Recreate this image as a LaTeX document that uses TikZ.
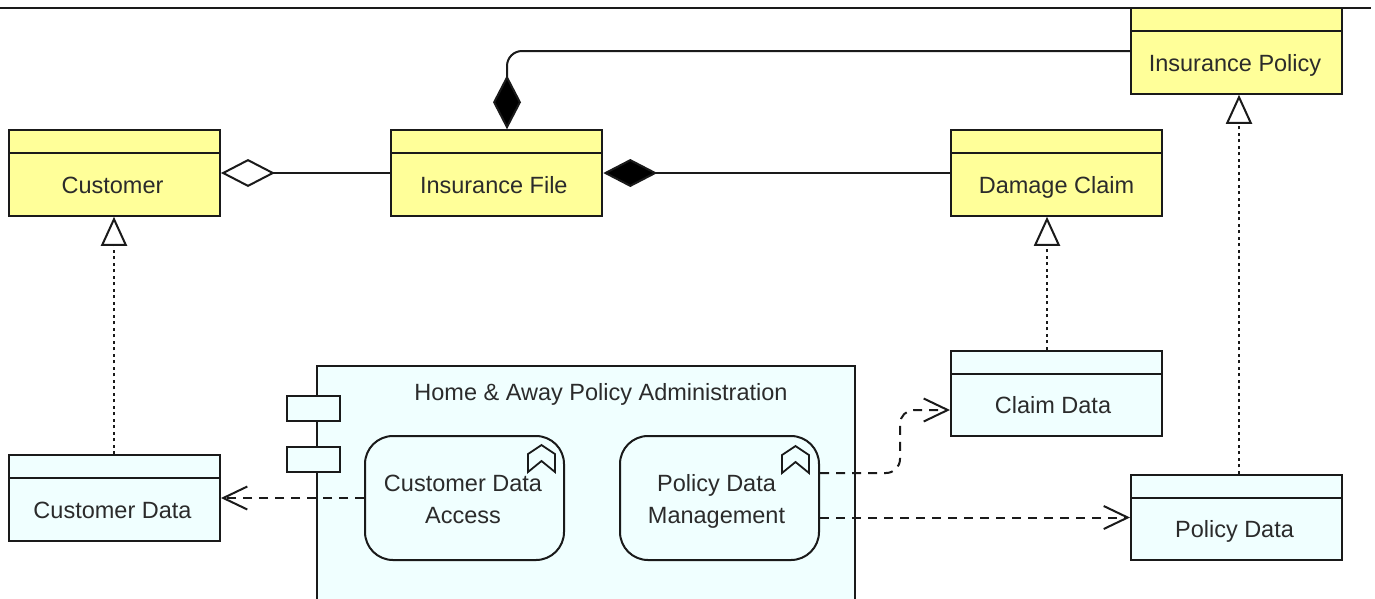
\documentclass[tikz,border=0pt]{standalone}
\usepackage{fontspec}
\setmainfont{Liberation Sans}
\usetikzlibrary{arrows.meta,calc}
\definecolor{bizyellow}{HTML}{FFFF99}
\definecolor{appcyan}{HTML}{F0FFFF}
\definecolor{inkline}{HTML}{1A1A1A}
\definecolor{inktext}{HTML}{2B2B2B}
% horizontal offset (doubled inside a zero-width box), then the text
\newcommand{\boxlabel}[2]{\raisebox{-20pt}[0pt][0pt]{\makebox[0pt]{\hspace*{#1}#2}}}
\newcommand{\funclabel}[2]{\raisebox{7pt}[0pt][0pt]{\makebox[0pt]{\hspace*{#1}\begin{tabular}[t]{@{}c@{}}#2\end{tabular}}}}
\newcommand{\chevronmark}[2]{\draw[chevronline] ($(#1)+(#2)+(-13.5,27)$) -- ++(0,-18) -- ++(13.5,-9) -- ++(13.5,9) -- ++(0,18) -- ++(-13.5,-11) -- cycle;}
\tikzset{
  x=1pt,y=-1pt,
  every node/.style={font=\fontsize{23.5}{32}\selectfont,text=inktext},
  databox/.style={draw=inkline,line width=2pt,minimum width=211pt,minimum height=85.5pt,inner sep=0pt,
    path picture={\draw[inkline,line width=2pt] ([yshift=-23pt]path picture bounding box.north west) -- ([yshift=-23pt]path picture bounding box.north east);}},
  bizbox/.style={databox,fill=bizyellow},
  appbox/.style={databox,fill=appcyan},
  tabbox/.style={draw=inkline,line width=2pt,fill=appcyan,minimum width=53pt,minimum height=25.5pt,inner sep=0pt},
  funcbox/.style={draw=inkline,line width=2pt,fill=appcyan,rounded corners=28pt,minimum width=199pt,minimum height=124pt,inner sep=0pt,align=center},
  chevronline/.style={draw=inkline,line width=1.8pt,line join=miter},
  conn/.style={draw=inkline,line width=2pt},
  realize/.style={conn,dash pattern=on 3pt off 3.5pt,-{Triangle[open,fill=white,length=29pt,width=26pt,line width=2pt]}},
  access/.style={conn,dash pattern=on 9pt off 7pt,-{Straight Barb[length=24pt,width=23pt,line width=2pt]}},
  aggreg/.style={conn,-{Diamond[open,fill=white,length=54pt,width=28pt,line width=2pt]}},
  compos/.style={conn,-{Diamond[fill=black,length=54pt,width=28pt]}},
}
\begin{document}
\begin{tikzpicture}
\useasboundingbox (0,0) rectangle (1375,598);
\clip (0,0) rectangle (1375,598);
\fill[white] (0,0) rectangle (1375,598);
\coordinate (ruleL) at (0,8);
\coordinate (ruleR) at (1371,8);
\draw[draw=inkline,line width=1.2pt] (ruleL) -- (ruleR);

\node[bizbox] (customer) at (114.5,173) {\boxlabel{-4pt}{Customer}};
\node[bizbox] (file) at (496.8,173) {\boxlabel{-6pt}{Insurance File}};
\node[bizbox] (claim) at (1056.5,173) {\boxlabel{0pt}{Damage Claim}};
\node[bizbox] (policy) at (1236.5,51) {\boxlabel{-3pt}{Insurance Policy}};
\node[appbox] (custdata) at (114.5,498) {\boxlabel{-4pt}{Customer Data}};
\node[appbox] (claimdata) at (1056.5,393.5) {\boxlabel{-7pt}{Claim Data}};
\node[appbox] (policydata) at (1236.5,517.5) {\boxlabel{-4pt}{Policy Data}};

\node[draw=inkline,line width=2pt,fill=appcyan,minimum width=538pt,minimum height=300pt,inner sep=0pt] (comp) at (586,516) {};
\node[anchor=base] (compname) at (601,400) {Home \& Away Policy Administration};
\node[tabbox] (tabA) at (313.5,408.5) {};
\node[tabbox] (tabB) at (313.5,459.5) {};
\node[funcbox] (cda) at (464.5,498) {\funclabel{-3pt}{Customer Data\\Access}};
\node[funcbox] (pdm) at (719.5,498) {\funclabel{-6pt}{Policy Data\\Management}};
\chevronmark{cda.north}{77,10}
\chevronmark{pdm.north}{76,11}

\draw[aggreg] (file.west) -- (customer.east);
\draw[compos] (claim.west) -- (file.east);
\draw[compos,rounded corners=15pt] (policy.west) -| ([xshift=10.2pt]file.north);
\draw[realize] ([xshift=-0.5pt]custdata.north) -- ([xshift=-0.5pt]customer.south);
\draw[realize] ([xshift=-9.5pt]claimdata.north) -- ([xshift=-9.5pt]claim.south);
\draw[realize] ([xshift=2.5pt]policydata.north) -- ([xshift=2.5pt]policy.south);
\draw[access] (cda.west) -- (custdata.east);
\draw[access] ([yshift=-19.5pt]pdm.east) -- (policydata.west);
\draw[access,rounded corners=14pt] ([yshift=25pt]pdm.east) -- (900,473) -- (900,410) -- ([yshift=-16.5pt]claimdata.west);
\end{tikzpicture}
\end{document}
